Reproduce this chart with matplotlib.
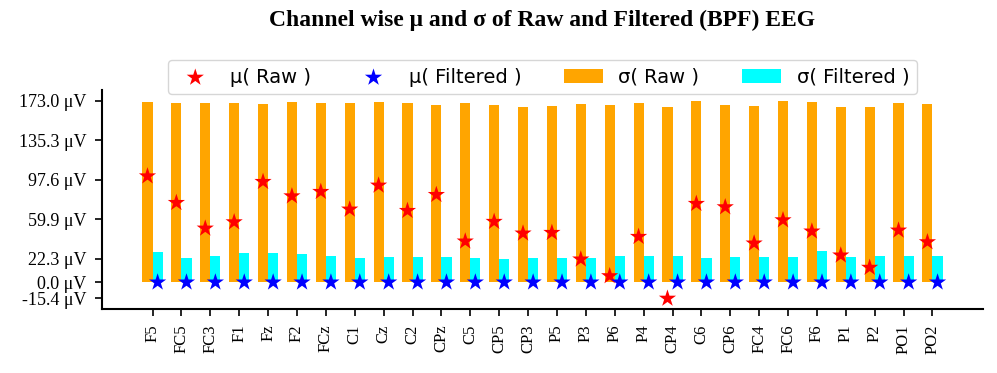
import numpy as np
import matplotlib
matplotlib.use("Agg")
import matplotlib.pyplot as plt

# Channel names
channels = ["F5", "FC5", "FC3", "F1", "Fz", "F2", "FCz", "C1", "Cz", "C2",
            "CPz", "C5", "CP5", "CP3", "P5", "P3", "P6", "P4", "CP4", "C6",
            "CP6", "FC4", "FC6", "F6", "P1", "P2", "PO1", "PO2"]

# Mean of raw EEG per channel (uV)
mu_raw = [101.0, 75.7, 51.3, 57.3, 95.7, 82.0, 86.2, 69.4, 92.2, 68.1,
          83.3, 39.0, 57.7, 46.6, 47.2, 21.9, 6.0, 43.4, -15.4, 74.8,
          71.6, 37.1, 59.2, 48.5, 25.7, 14.0, 49.4, 38.3]

# Mean of filtered EEG per channel (uV)
mu_filt = [0.0, 0.0, 0.0, 0.0, 0.0, 0.0, 0.0, 0.0, 0.0, 0.0,
           0.0, 0.0, 0.0, 0.0, 0.0, 0.0, 0.0, 0.0, 0.0, 0.0,
           0.0, 0.0, 0.0, 0.0, 0.0, 0.0, 0.0, 0.0]

# Std of raw EEG per channel (uV)
sd_raw = [171.4, 170.8, 170.2, 170.8, 169.5, 171.4, 170.2, 170.2, 171.4, 171.1,
          168.3, 170.2, 168.3, 167.3, 167.6, 169.8, 168.6, 170.2, 167.3, 172.4,
          168.6, 167.6, 173.0, 171.4, 166.4, 167.3, 170.2, 169.8]

# Std of filtered EEG per channel (uV)
sd_filt = [29.2, 23.5, 24.7, 27.9, 27.9, 27.3, 24.7, 23.5, 23.8, 23.8,
           23.8, 22.8, 22.5, 23.1, 23.1, 23.5, 24.7, 25.3, 24.7, 23.5,
           24.1, 24.4, 23.8, 29.5, 24.4, 25.3, 24.7, 25.0]

y_ticks = [-15.4, 0.0, 22.3, 59.9, 97.6, 135.3, 173.0]

serif = "Liberation Serif"
x = np.arange(len(channels))
w = 0.35

fig = plt.figure(figsize=(9.97, 3.73), dpi=100)
ax = fig.add_axes([0.1023, 0.1716, 0.8837, 0.5871])

b1 = ax.bar(x - w / 2, sd_raw, width=w, color="orange", zorder=1)
b2 = ax.bar(x + w / 2, sd_filt, width=w, color="cyan", zorder=1)
s1 = ax.scatter(x - w / 2, mu_raw, marker="*", s=170, color="red",
                edgecolors="none", zorder=3)
s2 = ax.scatter(x + w / 2, mu_filt, marker="*", s=170, color="blue",
                edgecolors="none", zorder=3)

ax.set_xlim(-1.75, 28.75)
ax.set_ylim(-25.4, 183.0)
ax.set_xticks(x)
ax.set_xticklabels(channels, rotation=90, family=serif, fontsize=12)
ax.set_yticks(y_ticks)
ax.set_yticklabels([f"{v:.1f} μV" for v in y_ticks], family=serif, fontsize=13)

for s in ["top", "right"]:
    ax.spines[s].set_visible(False)
for s in ["left", "bottom"]:
    ax.spines[s].set_linewidth(1.5)
ax.tick_params(width=1.2, length=5)
ax.tick_params(axis="y", pad=6)
ax.tick_params(axis="x", pad=6)

ax.legend([s1, s2, b1, b2],
          ["μ( Raw )", "μ( Filtered )", "σ( Raw )", "σ( Filtered )"],
          loc="lower center", bbox_to_anchor=(0.5, 0.98), ncol=4,
          fontsize=14, scatterpoints=1, borderaxespad=0, columnspacing=2.2)

fig.text(0.544, 0.946, "Channel wise μ and σ of Raw and Filtered (BPF) EEG",
         ha="center", va="center", family=serif, fontweight="bold", fontsize=17)

fig.savefig("out.png", dpi=100)
